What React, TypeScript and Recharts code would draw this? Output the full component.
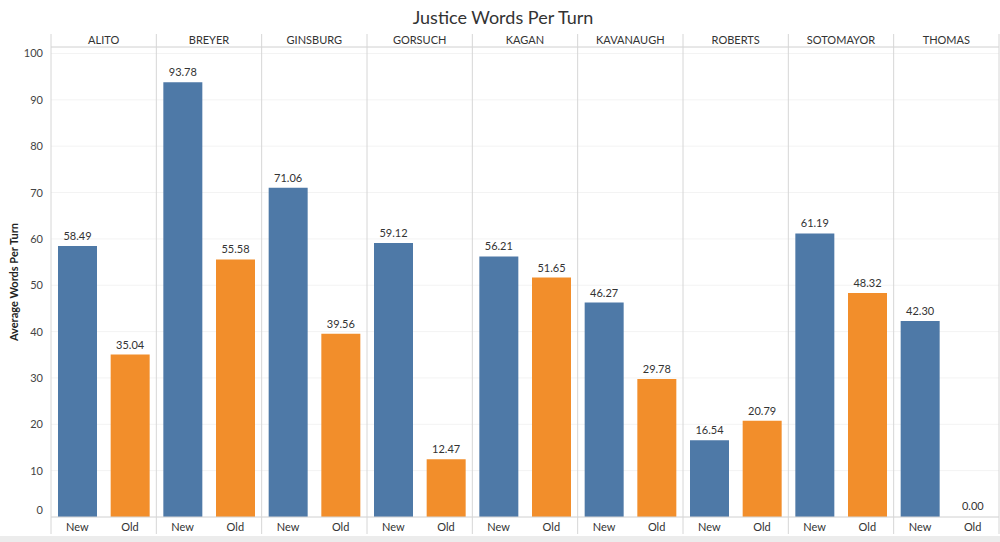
import { BarChart, Bar, Cell, XAxis, YAxis, CartesianGrid } from 'recharts';

const justices = ['ALITO', 'BREYER', 'GINSBURG', 'GORSUCH', 'KAGAN', 'KAVANAUGH', 'ROBERTS', 'SOTOMAYOR', 'THOMAS'];
const newWords = [58.49, 93.78, 71.06, 59.12, 56.21, 46.27, 16.54, 61.19, 42.3];
const oldWords = [35.04, 55.58, 39.56, 12.47, 51.65, 29.78, 20.79, 48.32, 0.0];
const yTicks = [0, 10, 20, 30, 40, 50, 60, 70, 80, 90, 100];

const COLORS: Record<string, string> = { New: '#4e79a7', Old: '#f28e2b' };
const FONT = 'Lato, "Open Sans", sans-serif';
const LINE = '#d6d6d6';

const rows = justices.flatMap((j, i) => [
  { justice: j, type: 'New', words: newWords[i] },
  { justice: j, type: 'Old', words: oldWords[i] },
]);

function PanelTick(props: any) {
  const { x, payload, index } = props;
  const half = payload.offset || 0;
  return (
    <g>
      <text x={x} y={44} textAnchor="middle" fontSize={11} fill="#333" fontFamily={FONT}>
        {payload.value}
      </text>
      <line x1={x - half} x2={x - half} y1={34} y2={534} stroke={LINE} />
      {index === justices.length - 1 && (
        <line x1={x + half} x2={x + half} y1={34} y2={534} stroke={LINE} />
      )}
    </g>
  );
}

function ValueTick(props: any) {
  const { x, y, payload } = props;
  return (
    <text x={x} y={payload.value === 0 ? y - 7 : y} dy={4} textAnchor="end" fontSize={11} fill="#444" fontFamily={FONT}>
      {payload.value}
    </text>
  );
}

function BarValue(props: any) {
  const { x, y, width, value } = props;
  return (
    <text x={x + width / 2} y={y - 6} textAnchor="middle" fontSize={11} fill="#333" fontFamily={FONT}>
      {Number(value).toFixed(2)}
    </text>
  );
}

export default function App() {
  return (
    <div style={{ position: 'absolute', left: 0, top: 0, width: 1000, height: 542, background: '#fff' }}>
      <div
        style={{
          position: 'absolute',
          top: 6,
          left: 0,
          width: 1006,
          textAlign: 'center',
          fontFamily: FONT,
          fontSize: 18,
          color: '#333',
        }}
      >
        Justice Words Per Turn
      </div>
      <BarChart width={1000} height={542} data={rows} margin={{ top: 34, right: 1, bottom: 5, left: 0 }}>
        <CartesianGrid xAxisId="bottom" vertical={false} stroke="#f3f3f3" />
        <XAxis
          xAxisId="top"
          orientation="top"
          dataKey="justice"
          allowDuplicatedCategory={false}
          height={13}
          tickLine={false}
          axisLine={{ stroke: LINE }}
          tick={<PanelTick />}
          interval={0}
        />
        <XAxis
          xAxisId="bottom"
          dataKey="type"
          height={20}
          tickLine={false}
          axisLine={{ stroke: LINE }}
          tick={{ fontSize: 11, fill: '#333', fontFamily: FONT }}
          tickMargin={0}
          interval={0}
        />
        <YAxis
          width={51}
          domain={[0, 101.4]}
          ticks={yTicks}
          tickLine={false}
          axisLine={false}
          tick={<ValueTick />}
          label={{
            value: 'Average Words Per Turn',
            angle: -90,
            position: 'insideLeft',
            offset: 14,
            style: { textAnchor: 'middle', fontSize: 11, fontWeight: 700, fill: '#222', fontFamily: FONT },
          }}
        />
        <Bar
          xAxisId="bottom"
          dataKey="words"
          barSize={39}
          minPointSize={1}
          isAnimationActive={false}
          label={<BarValue />}
        >
          {rows.map((r, i) => (
            <Cell key={i} fill={r.words === 0 ? 'transparent' : COLORS[r.type]} />
          ))}
        </Bar>
      </BarChart>
      <div style={{ position: 'absolute', left: 0, top: 536, width: 1000, height: 6, background: '#ececec' }} />
    </div>
  );
}
